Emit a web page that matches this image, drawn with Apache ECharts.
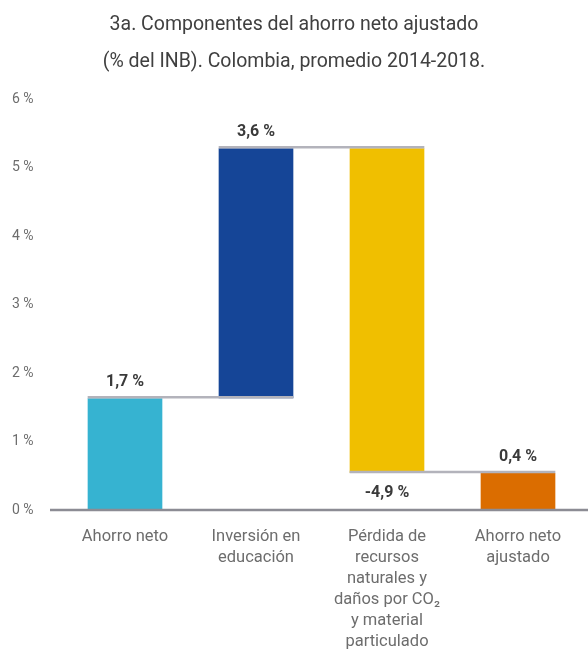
<!DOCTYPE html>
<html>
<head>
<meta charset="utf-8">
<script src="https://cdn.jsdelivr.net/npm/echarts@6/dist/echarts.min.js"></script>
<style>
html,body{margin:0;padding:0;background:#fff;}
#c{width:588px;height:652px;}
</style>
</head>
<body>
<div id="c"></div>
<script>
// ---- data ----
const titleText = '3a. Componentes del ahorro neto ajustado\n(% del INB). Colombia, promedio 2014-2018.';
const categories = [
  'Ahorro neto',
  'Inversión en\neducación',
  'Pérdida de\nrecursos\nnaturales y\ndaños por CO₂\ny material\nparticulado',
  'Ahorro neto\najustado'
];
// component values as drawn (% of GNI); last one is the total
const values = [1.63, 3.65, -4.74, 0.54];
const isTotal = [false, false, false, true];
const valueLabels = ['1,7 %', '3,6 %', '-4,9 %', '0,4 %'];
const barColors = ['#36b3d1', '#154597', '#f0bf00', '#db6d00'];
const yTicks = [0, 1, 2, 3, 4, 5, 6];

// ---- waterfall build ----
const base = [], height = [], level = [];
let run = 0;
values.forEach((v, i) => {
  if (i === 0 || isTotal[i]) {
    base.push(0); height.push(v); run = v;
  } else if (v >= 0) {
    base.push(run); height.push(v); run += v;
  } else {
    base.push(run + v); height.push(-v); run += v;
  }
  level.push(isTotal[i] ? v : run);
});
const connectors = [];
for (let i = 0; i < values.length - 1; i++) connectors.push([i, level[i]]);

const BAR_FRAC = 0.57;
const chart = echarts.init(document.getElementById('c'), null, {renderer: 'canvas'});
const FONT = 'Roboto, "Noto Sans", sans-serif';

chart.setOption({
  animation: false,
  backgroundColor: '#ffffff',
  title: {
    text: titleText,
    left: 'center',
    top: 2,
    textStyle: {fontFamily: FONT, fontSize: 19.5, fontWeight: 'normal', color: '#404040', lineHeight: 37}
  },
  grid: {left: 59.5, right: 4.5, top: 99, bottom: 141},
  xAxis: {
    type: 'category',
    data: categories,
    axisLine: {show: false},
    axisTick: {show: false},
    axisLabel: {
      interval: 0, margin: 16, fontFamily: FONT, fontSize: 16.5, color: '#6d6d6d', lineHeight: 21,
      verticalAlign: 'top'
    }
  },
  yAxis: {
    type: 'value',
    min: yTicks[0], max: yTicks[yTicks.length - 1], interval: 1,
    splitLine: {show: false},
    axisLine: {show: false},
    axisTick: {show: false},
    axisLabel: {margin: 26, fontFamily: FONT, fontSize: 14, color: '#6d6d6d', formatter: '{value} %'}
  },
  series: [
    {
      type: 'bar', stack: 'w', data: base, barCategoryGap: (100 - BAR_FRAC * 100) + '%',
      itemStyle: {color: 'transparent'}, silent: true
    },
    {
      type: 'bar', stack: 'w', barCategoryGap: (100 - BAR_FRAC * 100) + '%',
      data: height.map((h, i) => ({
        value: h,
        itemStyle: {color: barColors[i]},
        label: {
          show: true,
          position: values[i] < 0 ? 'bottom' : 'top',
          distance: values[i] < 0 ? 12 : 8,
          formatter: valueLabels[i],
          fontFamily: FONT, fontSize: 16, fontWeight: 'bold', color: '#3a3a3a'
        }
      }))
    },
    {
      type: 'custom',
      data: connectors,
      z: 5,
      renderItem: function (params, api) {
        const i = api.value(0);
        const y = api.coord([i, api.value(1)])[1];
        const band = api.size([1, 0])[0];
        const half = band * BAR_FRAC / 2;
        const x1 = api.coord([i, 0])[0] - half;
        const x2 = api.coord([i + 1, 0])[0] + half;
        return {
          type: 'line',
          shape: {x1: x1, y1: y - 1, x2: x2, y2: y - 1},
          style: {stroke: '#b3b3bb', lineWidth: 2.5}
        };
      }
    }
  ]
});

// baseline axis extending a bit left of the plot
const y0 = chart.convertToPixel({yAxisIndex: 0}, 0);
chart.setOption({
  graphic: [{
    type: 'line', z: 10,
    shape: {x1: 50, y1: y0, x2: 588, y2: y0},
    style: {stroke: '#8c8c94', lineWidth: 2.5}
  }]
});
</script>
</body>
</html>
